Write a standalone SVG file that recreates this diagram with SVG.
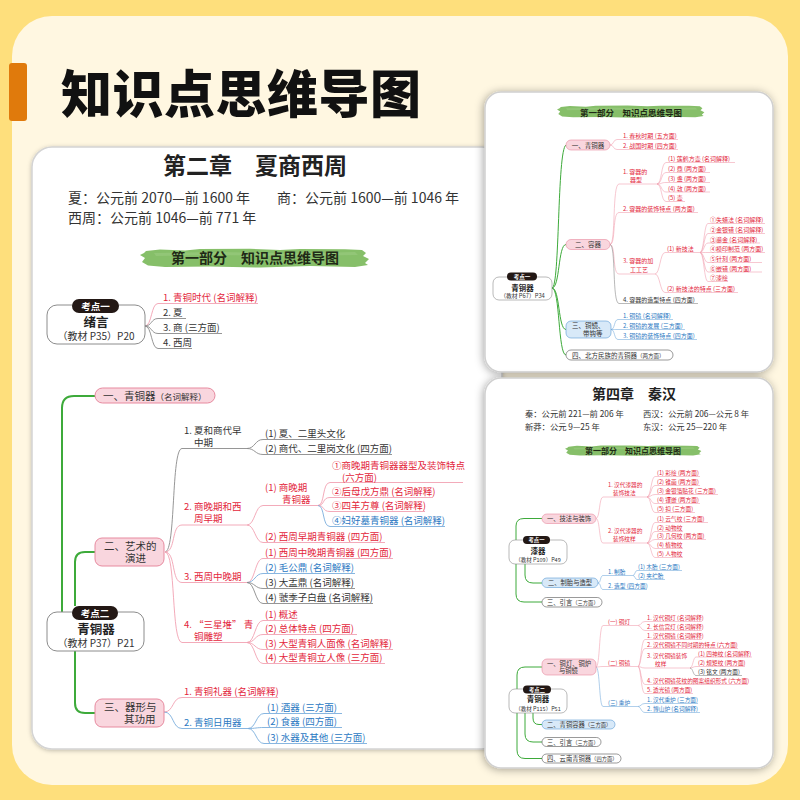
<svg xmlns="http://www.w3.org/2000/svg" xmlns:xlink="http://www.w3.org/1999/xlink" width="800" height="800" viewBox="0 0 800 800">
<defs>
<style>
text{font-family:"Noto Sans CJK SC","Noto Sans",sans-serif;}
.m{font-size:9.5px}
.s{font-size:6px}
.q{font-size:5.7px}
.r{fill:#E3263B}.b{fill:#2A78C2}.k{fill:#333}
.cr,.cb,.ck,.cg{fill:none}
.cr{stroke:#F2A2B2}.cb{stroke:#7AAEDD}.ck{stroke:#8a8a8a}
.cg{stroke:#3DAA3A;stroke-width:2}
.thin .cr,.thin .cb,.thin .ck{stroke-width:0.6}
.thin .cg{stroke-width:1}
.main .cr,.main .cb,.main .ck{stroke-width:0.9}
.bp{fill:#F9D6DE;stroke:#E78A9F}
.bb{fill:#D8E9F8;stroke:#5B9BD5}
.bk{fill:#fff;stroke:#555}
.node{fill:#fff;stroke:#8c8c8c}
.pill{fill:#231815}
.pt{fill:#fff;font-weight:700}
.bt{fill:#333}
.ban{fill:#1f2a16;font-weight:700}
</style>
<filter id="sh" x="-10%" y="-10%" width="120%" height="120%">
<feDropShadow dx="-1" dy="1" stdDeviation="4" flood-color="#000" flood-opacity="0.35"/>
</filter>
<filter id="sh2" x="-10%" y="-10%" width="120%" height="120%">
<feDropShadow dx="0" dy="1" stdDeviation="2" flood-color="#000" flood-opacity="0.25"/>
</filter>
<symbol id="brush" viewBox="0 0 230 20" preserveAspectRatio="none">
<path d="M6 3 L20 1.5 L45 2.5 L60 1 L110 0.8 L140 2 L160 1 L205 1.2 L222 2 L226 5 L223 8 L229 11 L225 15 L228 17 L215 19 L170 18 L120 19.5 L70 18.5 L25 19 L8 17.5 L2 14 L5 10 L0 7 L4 5 Z" fill="#86BF69"/>
<path d="M14 5 L80 4 L150 5.5 L215 4 L218 7 L150 8 L70 7 L16 8 Z" fill="#9BCB80" opacity="0.6"/>
</symbol>
</defs>

<!-- background -->
<rect x="0" y="0" width="800" height="800" fill="#FEDF7C"/>
<rect x="12" y="16" width="776" height="769" rx="40" fill="#FFF7E1"/>
<rect x="9" y="63" width="18" height="58" rx="3" fill="#E07A0C"/>
<g id="page-title"><text x="61" y="113" font-size="51" font-weight="900" fill="#111" letter-spacing="0.5">知识点思维导图</text></g>

<!-- main card -->
<g id="main-card" class="main">
<rect x="32" y="147" width="470" height="602" rx="20" fill="#fff" stroke="#d4d4d4" stroke-width="1.5" filter="url(#sh2)"/>
<text x="255" y="174" font-size="23" font-weight="700" fill="#222" text-anchor="middle">第二章　夏商西周</text>
<text x="68" y="203" font-size="14" fill="#333">夏：公元前 2070—前 1600 年</text>
<text x="277" y="203" font-size="14" fill="#333">商：公元前 1600—前 1046 年</text>
<text x="68" y="223" font-size="14" fill="#333">西周：公元前 1046—前 771 年</text>
<use xlink:href="#brush" x="140" y="248" width="230" height="20"/>
<text x="255" y="263" font-size="14" class="ban" text-anchor="middle">第一部分　知识点思维导图</text>

<g id="connectors-main">
<path class="cr" d="M145 326 C152 326,151 303.5,158 303.5 H258"/>
<path class="ck" d="M145 326 C152 326,151 318.5,158 318.5 H186"/>
<path class="ck" d="M145 326 C152 326,151 333.5,158 333.5 H222"/>
<path class="ck" d="M145 326 C152 326,151 348.5,158 348.5 H192"/>
<path class="cg" d="M62 612 V408 Q62 396 74 396 H95"/>
<path class="cg" d="M75 606 V562 Q75 552 85 552 H95"/>
<path class="cg" d="M75 651 V703 Q75 713 85 713 H95"/>
<path class="ck" d="M165 552 C176 552,171 448.5,182 448.5 H247"/>
<path class="cr" d="M165 552 C176 552,171 525,182 525 H247"/>
<path class="cr" d="M165 552 C176 552,171 582.5,182 582.5 H247"/>
<path class="cr" d="M165 552 C176 552,171 642.5,182 642.5 H247"/>
<path class="ck" d="M247 448.5 C255 448.5,255 439.5,263 439.5 H343"/>
<path class="ck" d="M247 448.5 C255 448.5,255 454.5,263 454.5 H392"/>
<path class="cr" d="M247 525 C255 525,255 505.5,263 505.5 H318"/>
<path class="cr" d="M247 525 C255 525,255 542.5,263 542.5 H385"/>
<path class="cr" d="M318 505.5 C325 505.5,322 482.5,330 482.5 H463"/>
<path class="cr" d="M318 505.5 C325 505.5,322 497.5,330 497.5 H433"/>
<path class="cr" d="M318 505.5 C325 505.5,322 511.5,330 511.5 H425"/>
<path class="cb" d="M318 505.5 C325 505.5,322 526.5,330 526.5 H445"/>
<path class="cr" d="M247 582.5 C255 582.5,255 558.5,263 558.5 H393"/>
<path class="cb" d="M247 582.5 C255 582.5,255 573.5,263 573.5 H355"/>
<path class="ck" d="M247 582.5 C255 582.5,255 588.5,263 588.5 H355"/>
<path class="ck" d="M247 582.5 C255 582.5,255 603.5,263 603.5 H373"/>
<path class="cr" d="M247 642.5 C255 642.5,255 620.5,263 620.5 H298"/>
<path class="cr" d="M247 642.5 C255 642.5,255 634.5,263 634.5 H357"/>
<path class="cr" d="M247 642.5 C255 642.5,255 649.5,263 649.5 H393"/>
<path class="cr" d="M247 642.5 C255 642.5,255 663.5,263 663.5 H385"/>
<path class="cr" d="M164 712 C174 712,172 697.5,182 697.5 H278"/>
<path class="cb" d="M164 712 C174 712,172 728.5,182 728.5 H248"/>
<path class="cb" d="M248 728.5 C256 728.5,256 713.5,264 713.5 H342"/>
<path class="cb" d="M248 728.5 C256 728.5,256 727.5,264 727.5 H342"/>
<path class="cb" d="M248 728.5 C256 728.5,256 743.5,264 743.5 H367"/>
</g>

<g id="kd1">
<rect class="node" x="47" y="305" width="98" height="39" rx="10"/>
<rect class="pill" x="72" y="299" width="47" height="14" rx="7"/>
<text x="95.5" y="310" font-size="9.5" class="pt" text-anchor="middle">考点一</text>
<text x="96" y="327" font-size="12.5" font-weight="700" fill="#222" text-anchor="middle">绪言</text>
<text x="96" y="340" font-size="10" fill="#333" text-anchor="middle">（教材 P35）P20</text>
</g>
<g id="kd1-items">
<text x="163" y="301" class="m r">1. 青铜时代 (名词解释)</text>
<text x="163" y="316" class="m k">2. 夏</text>
<text x="163" y="331" class="m k">3. 商 (三方面)</text>
<text x="163" y="346" class="m k">4. 西周</text>
</g>

<g id="kd2">
<rect class="node" x="47" y="612" width="97" height="39" rx="10"/>
<rect class="pill" x="72" y="606" width="46" height="14" rx="7"/>
<text x="95" y="617" font-size="9.5" class="pt" text-anchor="middle">考点二</text>
<text x="96" y="634" font-size="12.5" font-weight="700" fill="#222" text-anchor="middle">青铜器</text>
<text x="96" y="647" font-size="10" fill="#333" text-anchor="middle">（教材 P37）P21</text>
</g>
<g id="kd2-b1">
<rect class="bp" x="95" y="388" width="120" height="15" rx="7.5"/>
<text x="103" y="399.5" font-size="10.5" class="bt">一、青铜器<tspan font-size="8.5">（名词解释）</tspan></text>
</g>
<g id="kd2-b2">
<rect class="bp" x="95" y="538" width="69" height="28" rx="7"/>
<text x="104" y="549.5" font-size="10.5" class="bt">二、艺术的</text>
<text x="125" y="562" font-size="10.5" class="bt">演进</text>
</g>
<g id="kd2-b3">
<rect class="bp" x="95" y="699" width="69" height="28" rx="7"/>
<text x="104" y="710.5" font-size="10.5" class="bt">三、器形与</text>
<text x="124" y="723" font-size="10.5" class="bt">其功用</text>
</g>
<g id="kd2-items">
<text x="184" y="434" class="m k">1. 夏和商代早</text>
<text x="194" y="446" class="m k">中期</text>
<text x="265" y="437" class="m k">(1) 夏、二里头文化</text>
<text x="265" y="452" class="m k">(2) 商代、二里岗文化 (四方面)</text>
<text x="184" y="510" class="m r">2. 商晚期和西</text>
<text x="194" y="522" class="m r">周早期</text>
<text x="265" y="491" class="m r">(1) 商晚期</text>
<text x="282" y="503" class="m r">青铜器</text>
<text x="332" y="468.5" class="m r">①商晚期青铜器器型及装饰特点</text>
<text x="342" y="480.5" class="m r">(六方面)</text>
<text x="332" y="495" class="m r">②后母戊方鼎 (名词解释)</text>
<text x="332" y="509" class="m r">③四羊方尊 (名词解释)</text>
<text x="332" y="524" class="m b">④妇好墓青铜器 (名词解释)</text>
<text x="265" y="540" class="m r">(2) 西周早期青铜器 (四方面)</text>
<text x="184" y="580" class="m r">3. 西周中晚期</text>
<text x="265" y="556" class="m r">(1) 西周中晚期青铜器 (四方面)</text>
<text x="265" y="571" class="m b">(2) 毛公鼎 (名词解释)</text>
<text x="265" y="586" class="m k">(3) 大盂鼎 (名词解释)</text>
<text x="265" y="601" class="m k">(4) 虢季子白盘 (名词解释)</text>
<text x="184" y="628" class="m r">4. “三星堆” 青</text>
<text x="194" y="640" class="m r">铜雕塑</text>
<text x="265" y="618" class="m r">(1) 概述</text>
<text x="265" y="632" class="m r">(2) 总体特点 (四方面)</text>
<text x="265" y="647" class="m r">(3) 大型青铜人面像 (名词解释)</text>
<text x="265" y="661" class="m r">(4) 大型青铜立人像 (三方面)</text>
<text x="184" y="695" class="m r">1. 青铜礼器 (名词解释)</text>
<text x="184" y="726" class="m b">2. 青铜日用器</text>
<text x="267" y="711" class="m b">(1) 酒器 (三方面)</text>
<text x="267" y="725" class="m b">(2) 食器 (四方面)</text>
<text x="267" y="741" class="m b">(3) 水器及其他 (三方面)</text>
</g>
</g>

<!-- right top card -->
<g id="card-top" class="thin">
<rect x="485" y="92" width="288" height="280" rx="16" fill="#fff" stroke="#d0d0d0" stroke-width="1.5" filter="url(#sh)"/>
<use xlink:href="#brush" x="557" y="105" width="148" height="13"/>
<text x="631" y="115.5" font-size="8.5" class="ban" text-anchor="middle">第一部分　知识点思维导图</text>
<g id="connectors-top">
<path class="cg" d="M552 288 C560 288,557 150,566 145"/>
<path class="cg" d="M552 288 C560 288,558 244.5,566 244.5"/>
<path class="cg" d="M552 288 C560 288,558 329.5,566 329.5"/>
<path class="cg" d="M552 288 C560 288,558 355,566 355"/>
<path class="cr" d="M610 145 C614 145,613 139.5,617 139.5 H678"/>
<path class="cr" d="M610 145 C614 145,613 149.5,617 149.5 H678"/>
<path class="cr" d="M610 244.5 C616 244.5,612 184,619 184 H657"/>
<path class="cr" d="M610 244.5 C616 244.5,612 212.5,619 212.5 H698"/>
<path class="cr" d="M610 244.5 C616 244.5,612 274,619 274 H655"/>
<path class="ck" d="M610 244.5 C616 244.5,612 303.5,619 303.5 H698"/>
<path class="cr" d="M657 184 C662 184,661 162.5,666 162.5 H735"/>
<path class="cr" d="M657 184 C662 184,661 172.5,666 172.5 H710"/>
<path class="cr" d="M657 184 C662 184,661 182.5,666 182.5 H710"/>
<path class="cr" d="M657 184 C662 184,661 192,666 192 H710"/>
<path class="cr" d="M657 184 C662 184,661 201.5,666 201.5 H685"/>
<path class="cr" d="M655 274 C660 274,660 252.5,665 252.5 H700"/>
<path class="cr" d="M655 274 C660 274,660 292.5,665 292.5 H738"/>
<path class="cr" d="M700 252.5 C704 252.5,704 223.5,708 223.5 H765"/>
<path class="cr" d="M700 252.5 C704 252.5,704 233.5,708 233.5 H765"/>
<path class="cr" d="M700 252.5 C704 252.5,704 243,708 243 H760"/>
<path class="cr" d="M700 252.5 C704 252.5,704 252.5,708 252.5 H765"/>
<path class="cr" d="M700 252.5 C704 252.5,704 262.5,708 262.5 H762"/>
<path class="cr" d="M700 252.5 C704 252.5,704 272,708 272 H762"/>
<path class="cr" d="M700 252.5 C704 252.5,704 281.5,708 281.5 H728"/>
<path class="cb" d="M611 329.5 C615 329.5,614 319.5,618 319.5 H673"/>
<path class="cb" d="M611 329.5 C615 329.5,614 329.5,618 329.5 H685"/>
<path class="cb" d="M611 329.5 C615 329.5,614 339.5,618 339.5 H697"/>
</g>
<g id="t-kd1">
<rect class="node" x="493" y="277" width="59" height="23" rx="6" stroke-width="0.6"/>
<rect class="pill" x="507" y="272.5" width="30" height="8" rx="4"/>
<text x="522" y="279" font-size="5.5" class="pt" text-anchor="middle">考点一</text>
<text x="522.5" y="290.5" font-size="7.5" font-weight="700" fill="#222" text-anchor="middle">青铜器</text>
<text x="522.5" y="298" font-size="5.8" fill="#333" text-anchor="middle">（教材 P67）P34</text>
</g>
<g id="t-b1"><rect class="bp" x="566" y="140" width="44" height="10" rx="5" stroke-width="0.6"/><text x="588" y="147.5" font-size="6.5" class="bt" text-anchor="middle">一、青铜器</text></g>
<g id="t-b2"><rect class="bp" x="566" y="239.5" width="44" height="10" rx="5" stroke-width="0.6"/><text x="588" y="247" font-size="6.5" class="bt" text-anchor="middle">二、容器</text></g>
<g id="t-b3"><rect class="bb" x="566" y="321" width="45" height="17" rx="5" stroke-width="0.6"/><text x="572" y="328" font-size="6.5" class="bt">三、铜镜、</text><text x="583" y="336" font-size="6.5" class="bt">带钩等</text></g>
<g id="t-b4"><rect class="bk" x="566" y="350" width="107" height="10" rx="5" stroke-width="0.6"/><text x="572" y="357.5" font-size="6.5" class="bt">四、北方民族的青铜器<tspan font-size="5.5">（两方面）</tspan></text></g>
<g id="t-items">
<text x="623" y="138" class="s r">1. 春秋时期 (五方面)</text>
<text x="623" y="148" class="s r">2. 战国时期 (四方面)</text>
<text x="623" y="173.5" class="s r">1. 容器的</text>
<text x="630" y="182" class="s r">器型</text>
<text x="668" y="161" class="s r">(1) 莲鹤方壶 (名词解释)</text>
<text x="668" y="171" class="s r">(2) 鼎 (两方面)</text>
<text x="668" y="181" class="s r">(3) 盏 (两方面)</text>
<text x="668" y="190.5" class="s r">(4) 敦 (两方面)</text>
<text x="668" y="200" class="s r">(5) 壶</text>
<text x="623" y="211" class="s r">2. 容器的装饰特点 (两方面)</text>
<text x="623" y="263" class="s r">3. 容器的加</text>
<text x="630" y="272" class="s r">工工艺</text>
<text x="667" y="251" class="s r">(1) 新技法</text>
<text x="710" y="222" class="s r">①失蜡法 (名词解释)</text>
<text x="710" y="232" class="s r">②金银错 (名词解释)</text>
<text x="710" y="241.5" class="s r">③鎏金 (名词解释)</text>
<text x="710" y="251" class="s r">④模印制范 (两方面)</text>
<text x="710" y="261" class="s r">⑤针刻 (两方面)</text>
<text x="710" y="270.5" class="s r">⑥嵌错 (两方面)</text>
<text x="710" y="280" class="s r">⑦漆绘</text>
<text x="667" y="291" class="s r">(2) 新技法的特点 (三方面)</text>
<text x="623" y="302" class="s k">4. 容器的造型特点 (四方面)</text>
<text x="623" y="318" class="s b">1. 铜镜 (名词解释)</text>
<text x="623" y="328" class="s b">2. 铜镜的发展 (三方面)</text>
<text x="623" y="338" class="s b">3. 铜镜的装饰特点 (四方面)</text>
</g>
</g>

<!-- right bottom card -->
<g id="card-bottom" class="thin">
<rect x="485" y="378" width="288" height="390" rx="16" fill="#fff" stroke="#d0d0d0" stroke-width="1.5" filter="url(#sh)"/>
<text x="634" y="399" font-size="14" font-weight="700" fill="#222" text-anchor="middle">第四章　秦汉</text>
<text x="525" y="417" font-size="8.3" fill="#333">秦：公元前 221—前 206 年</text>
<text x="643" y="417" font-size="8.3" fill="#333">西汉：公元前 206—公元 8 年</text>
<text x="525" y="430" font-size="8.3" fill="#333">新莽：公元 9—25 年</text>
<text x="643" y="430" font-size="8.3" fill="#333">东汉：公元 25—220 年</text>
<use xlink:href="#brush" x="565" y="445" width="137" height="11"/>
<text x="633" y="454" font-size="8" class="ban" text-anchor="middle">第一部分　知识点思维导图</text>
<g id="connectors-bottom">
<path class="cg" d="M542 518.5 H524 Q516 518.5 516 526 V594 Q516 602 524 602 H542"/>
<path class="cg" d="M525 564 V575 Q525 583 533 583 H542"/>
<path class="cg" d="M542 667 H525 Q517 667 517 675 V750 Q517 758.5 525 758.5 H542"/>
<path class="cg" d="M525 713 V734 Q525 742 533 742 H542"/>
<path class="cg" d="M533 713 V718 Q533 724.5 539 724.5 H542"/>
<path class="cr" d="M596 518.5 C600 518.5,599 497,603 497 H647"/>
<path class="cr" d="M596 518.5 C600 518.5,599 543,603 543 H647"/>
<path class="cr" d="M647 497 C651 497,651 476.5,655 476.5 H700"/>
<path class="cr" d="M647 497 C651 497,651 485.5,655 485.5 H700"/>
<path class="cr" d="M647 497 C651 497,651 494.5,655 494.5 H718"/>
<path class="cr" d="M647 497 C651 497,651 503.5,655 503.5 H700"/>
<path class="cr" d="M647 497 C651 497,651 512.5,655 512.5 H695"/>
<path class="cr" d="M647 543 C651 543,651 522.5,655 522.5 H708"/>
<path class="cr" d="M647 543 C651 543,651 531.5,655 531.5 H683"/>
<path class="cr" d="M647 543 C651 543,651 539.5,655 539.5 H706"/>
<path class="cr" d="M647 543 C651 543,651 548.5,655 548.5 H683"/>
<path class="cr" d="M647 543 C651 543,651 557.5,655 557.5 H683"/>
<path class="cb" d="M598 583 C601 583,600 575.5,603 575.5 H633"/>
<path class="cb" d="M598 583 C601 583,600 589.5,603 589.5 H647"/>
<path class="cb" d="M633 575.5 C635 575.5,635 570.5,637 570.5 H682"/>
<path class="cb" d="M633 575.5 C635 575.5,635 579.5,637 579.5 H665"/>
<path class="cr" d="M596 667 C600 667,599 625.5,603 625.5 H638"/>
<path class="cr" d="M596 667 C600 667,599 666.5,603 666.5 H638"/>
<path class="cb" d="M596 667 C600 667,599 706.5,603 706.5 H638"/>
<path class="cr" d="M638 625.5 C641 625.5,641 621.5,645 621.5 H702"/>
<path class="cr" d="M638 625.5 C641 625.5,641 630.5,645 630.5 H702"/>
<path class="cr" d="M638 666.5 C641 666.5,641 639.5,645 639.5 H702"/>
<path class="cr" d="M638 666.5 C641 666.5,641 648.5,645 648.5 H738"/>
<path class="cr" d="M638 666.5 C641 666.5,641 668,645 668 H690"/>
<path class="cr" d="M638 666.5 C641 666.5,641 684.5,645 684.5 H748"/>
<path class="cr" d="M638 666.5 C641 666.5,641 693.5,645 693.5 H693"/>
<path class="cr" d="M690 668 C693 668,693 657,696 657 H752"/>
<path class="cr" d="M690 668 C693 668,693 666.5,696 666.5 H745"/>
<path class="ck" d="M690 668 C693 668,693 675.5,696 675.5 H742"/>
<path class="cb" d="M638 706.5 C641 706.5,641 703.5,645 703.5 H698"/>
<path class="cb" d="M638 706.5 C641 706.5,641 712.5,645 712.5 H700"/>
</g>
<g id="b-kd1">
<rect class="node" x="509" y="540" width="58" height="24" rx="6" stroke-width="0.6"/>
<rect class="pill" x="523" y="536" width="27" height="8" rx="4"/>
<text x="536.5" y="542.3" font-size="5.3" class="pt" text-anchor="middle">考点一</text>
<text x="538" y="553.5" font-size="7.5" font-weight="700" fill="#222" text-anchor="middle">漆器</text>
<text x="538" y="562" font-size="5.5" fill="#333" text-anchor="middle">（教材 P109）P49</text>
</g>
<g id="b-kd1-b1"><rect class="bp" x="542" y="514" width="54" height="9.5" rx="4.75" stroke-width="0.6"/><text x="569" y="521" font-size="6.3" class="bt" text-anchor="middle">一、技法与装饰</text></g>
<g id="b-kd1-b2"><rect class="bb" x="542" y="578" width="56" height="9.5" rx="4.75" stroke-width="0.6"/><text x="570" y="585" font-size="6.3" class="bt" text-anchor="middle">二、制胎与造型</text></g>
<g id="b-kd1-b3"><rect class="bk" x="542" y="597.5" width="60" height="9.5" rx="4.75" stroke-width="0.6"/><text x="547" y="604.5" font-size="6.3" class="bt">三、引言<tspan font-size="5.3">（三方面）</tspan></text></g>
<g id="b-kd1-items">
<text x="608" y="486.5" class="q r">1. 汉代漆器的</text>
<text x="613" y="495" class="q r">装饰技法</text>
<text x="657" y="475" class="q r">(1) 彩绘 (两方面)</text>
<text x="657" y="484" class="q r">(2) 锥画 (两方面)</text>
<text x="657" y="493" class="q r">(3) 金银箔贴花 (三方面)</text>
<text x="657" y="502" class="q r">(4) 镶嵌 (两方面)</text>
<text x="657" y="511" class="q r">(5) 扣 (三方面)</text>
<text x="608" y="532.5" class="q r">2. 汉代漆器的</text>
<text x="613" y="541" class="q r">装饰纹样</text>
<text x="657" y="521" class="q r">(1) 云气纹 (三方面)</text>
<text x="657" y="530" class="q r">(2) 动物纹</text>
<text x="657" y="538" class="q r">(3) 几何纹 (两方面)</text>
<text x="657" y="547" class="q r">(4) 植物纹</text>
<text x="657" y="556" class="q r">(5) 人物纹</text>
<text x="608" y="574" class="q b">1. 制胎</text>
<text x="638" y="569" class="q b">(1) 木胎 (三方面)</text>
<text x="638" y="578" class="q b">(2) 夹纻胎</text>
<text x="608" y="588" class="q b">2. 造型 (四方面)</text>
</g>
<g id="b-kd2">
<rect class="node" x="509" y="689" width="58" height="24" rx="6" stroke-width="0.6"/>
<rect class="pill" x="523" y="685.5" width="28" height="8" rx="4"/>
<text x="537" y="691.8" font-size="5.3" class="pt" text-anchor="middle">考点二</text>
<text x="538" y="702" font-size="7.5" font-weight="700" fill="#222" text-anchor="middle">青铜器</text>
<text x="538" y="710.5" font-size="5.5" fill="#333" text-anchor="middle">（教材 P115）P51</text>
</g>
<g id="b-kd2-b1"><rect class="bp" x="542" y="659" width="54" height="16" rx="5" stroke-width="0.6"/><text x="547" y="665.5" font-size="6.3" class="bt">一、铜灯、铜炉</text><text x="559" y="673" font-size="6.3" class="bt">与铜镜</text></g>
<g id="b-kd2-b2"><rect class="bb" x="542" y="720" width="73" height="9" rx="4.5" stroke-width="0.6"/><text x="547" y="727" font-size="6.3" class="bt">二、青铜容器<tspan font-size="5.3">（三方面）</tspan></text></g>
<g id="b-kd2-b3"><rect class="bk" x="542" y="737.5" width="59" height="9" rx="4.5" stroke-width="0.6"/><text x="547" y="744.5" font-size="6.3" class="bt">三、引言<tspan font-size="5.3">（三方面）</tspan></text></g>
<g id="b-kd2-b4"><rect class="bk" x="542" y="754" width="79" height="9" rx="4.5" stroke-width="0.6"/><text x="547" y="761" font-size="6.3" class="bt">四、云南青铜器<tspan font-size="5.3">（四方面）</tspan></text></g>
<g id="b-kd2-items">
<text x="608" y="624" class="q r">(一) 铜灯</text>
<text x="647" y="620" class="q r">1. 汉代铜灯 (名词解释)</text>
<text x="647" y="629" class="q r">2. 长信宫灯 (名词解释)</text>
<text x="608" y="665" class="q r">(二) 铜镜</text>
<text x="647" y="638" class="q r">1. 汉代铜镜 (名词解释)</text>
<text x="647" y="647" class="q r">2. 汉代铜镜不同时期的特点 (六方面)</text>
<text x="647" y="657.5" class="q r">3. 汉代铜镜装饰</text>
<text x="655" y="666" class="q r">纹样</text>
<text x="698" y="655.5" class="q r">(1) 四神纹 (名词解释)</text>
<text x="698" y="665" class="q r">(2) 规矩纹 (两方面)</text>
<text x="698" y="674" class="q k">(3) 铭文 (两方面)</text>
<text x="647" y="683" class="q r">4. 汉代铜镜花纹的图案组织形式 (六方面)</text>
<text x="647" y="692" class="q r">5. 透光镜 (两方面)</text>
<text x="608" y="705" class="q b">(三) 熏炉</text>
<text x="647" y="702" class="q b">1. 汉代熏炉 (三方面)</text>
<text x="647" y="711" class="q b">2. 博山炉 (名词解释)</text>
</g>
</g>
</svg>
